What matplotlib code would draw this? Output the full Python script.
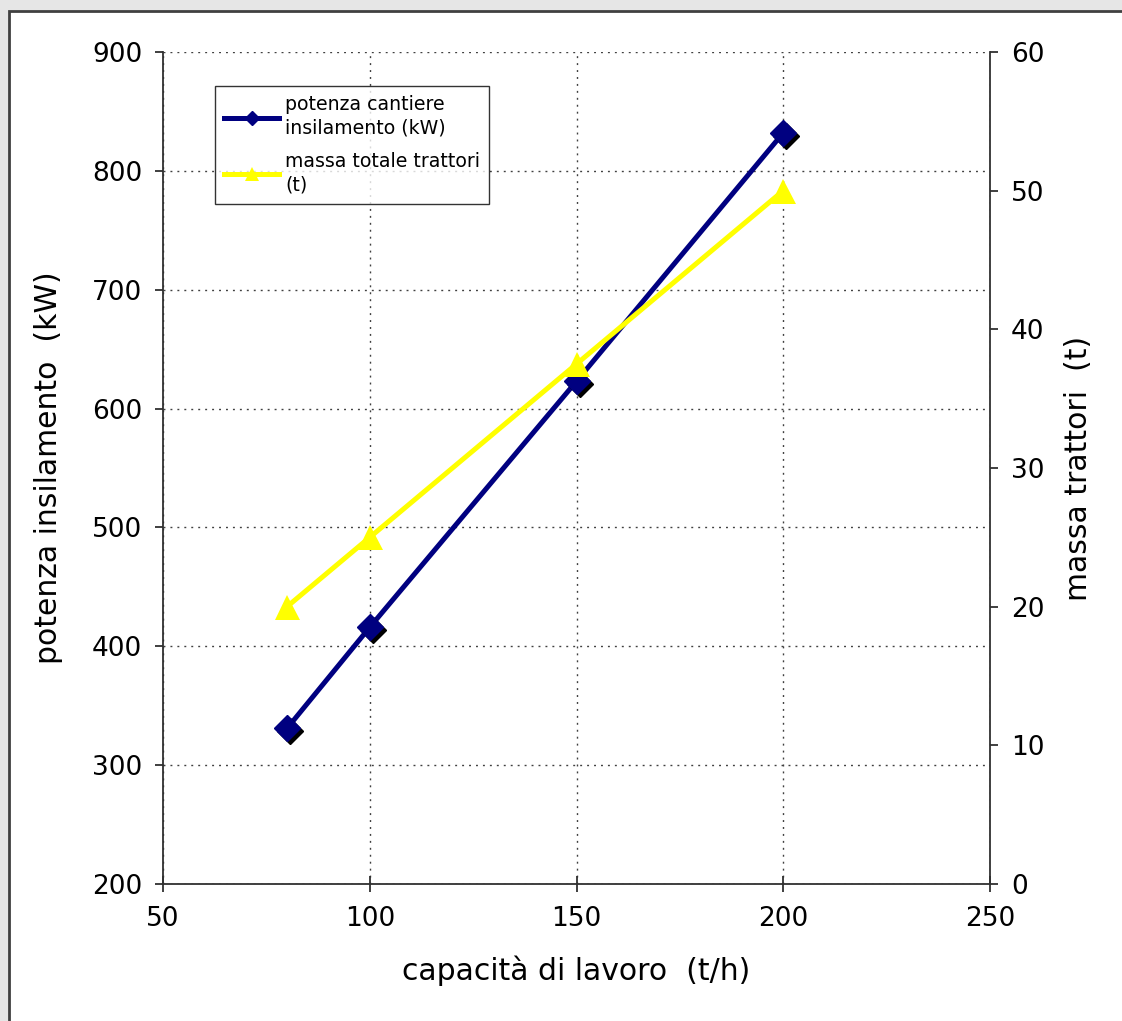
import matplotlib
matplotlib.use("Agg")
import matplotlib.pyplot as plt
from matplotlib.patches import Rectangle
from matplotlib.lines import Line2D
from matplotlib.transforms import offset_copy

# Data: work capacity (t/h), silage site power (kW), total tractor mass (t)
capacita = [80, 100, 150, 200]
potenza_kw = [331, 416, 623, 832]
massa_t = [20, 25, 37.5, 50]

x_ticks = [50, 100, 150, 200, 250]
left_ticks = [200, 300, 400, 500, 600, 700, 800, 900]
right_ticks = [0, 10, 20, 30, 40, 50, 60]

BLUE = "#000080"
YELLOW = "#FFFF00"
GRID = "#404040"

plt.rcParams["font.family"] = ["DejaVu Sans"]

fig = plt.figure(figsize=(11.22, 10.21), dpi=100)
fig.patch.set_facecolor("#e6e6e6")
# white panel with dark frame
panel = Rectangle((9 / 1122, -0.01), 1.2, 1 - 11 / 1021 + 0.01,
                  transform=fig.transFigure, facecolor="white",
                  edgecolor="#404040", linewidth=2.0, zorder=-10)
fig.patches.append(panel)

ax = fig.add_axes([163 / 1122, 1 - 884 / 1021, (990 - 163) / 1122, (884 - 52) / 1021])
ax.set_facecolor("none")
ax2 = ax.twinx()

ax.set_xlim(50, 250)
ax.set_ylim(200, 900)
ax2.set_ylim(0, 60)
ax.set_xticks(x_ticks)
ax.set_yticks(left_ticks)
ax2.set_yticks(right_ticks)

grid_style = dict(color=GRID, linewidth=1.0, linestyle=(0, (1.4, 3.6)))
ax.grid(True, **grid_style)

for a in (ax, ax2):
    a.spines["top"].set_visible(False)
    for s in a.spines.values():
        s.set_color("#303030")
        s.set_linewidth(1.3)
ax.spines["right"].set_visible(False)
ax2.spines["left"].set_visible(False)
ax2.spines["bottom"].set_visible(False)

ax.tick_params(axis="x", direction="inout", length=12, width=1.3, color="#303030",
               labelsize=19, pad=10)
ax.tick_params(axis="y", direction="out", length=6, width=1.3, color="#303030",
               labelsize=19, pad=9)
ax2.tick_params(axis="y", direction="out", length=6, width=1.3, color="#303030",
                labelsize=19, pad=9)

# series on the left axis: navy line with shadowed diamonds
ax.plot(capacita, potenza_kw, color=BLUE, linewidth=3.6, zorder=3)
shadow = offset_copy(ax.transData, fig=fig, x=3, y=-3, units="dots")
ax.plot(capacita, potenza_kw, linestyle="none", marker="D", markersize=13,
        color="black", transform=shadow, zorder=4)
ax.plot(capacita, potenza_kw, linestyle="none", marker="D", markersize=13,
        color=BLUE, zorder=5)

# series on the right axis: yellow line with triangles
ax2.plot(capacita, massa_t, color=YELLOW, linewidth=3.6, marker="^",
         markersize=18, markeredgewidth=0, zorder=3)

ax.set_xlabel("capacità di lavoro  (t/h)", fontsize=21.5, labelpad=17)
ax.set_ylabel("potenza insilamento  (kW)", fontsize=21.5, labelpad=21)
ax2.set_ylabel("massa trattori  (t)", fontsize=21.5, labelpad=14)

handles = [
    Line2D([], [], color=BLUE, linewidth=3.6, marker="D", markersize=7),
    Line2D([], [], color=YELLOW, linewidth=3.6, marker="^", markersize=10,
           markeredgewidth=0),
]
labels = ["potenza cantiere\ninsilamento (kW)", "massa totale trattori\n(t)"]
leg = fig.legend(handles, labels, loc="upper left",
                 bbox_to_anchor=(215 / 1122, 1 - 86 / 1021),
                 fontsize=13.6, frameon=True, fancybox=False, shadow=False,
                 handlelength=2.9, handletextpad=0.3, borderpad=0.5,
                 labelspacing=0.75, borderaxespad=0)
leg.get_frame().set_edgecolor("black")
leg.get_frame().set_linewidth(1.0)
for t in leg.get_texts():
    t.set_linespacing(1.3)

fig.savefig("out.png", dpi=100, facecolor=fig.get_facecolor())
